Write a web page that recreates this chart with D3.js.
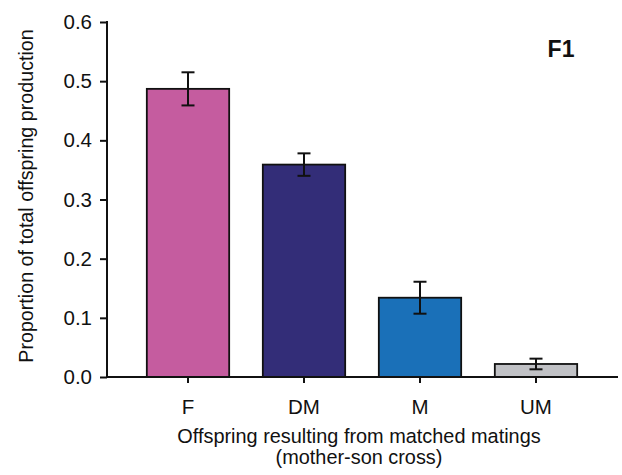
<!DOCTYPE html>
<html>
<head>
<meta charset="utf-8">
<script src="https://cdn.jsdelivr.net/npm/d3@7"></script>
<style>
  body { margin: 0; background: #fff; }
  text { font-family: "Liberation Sans", Arial, sans-serif; }
</style>
</head>
<body>
<div id="chart"></div>
<script>
// data
var categories = ['F', 'DM', 'M', 'UM'];
var proportions = [0.487, 0.359, 0.134, 0.022];
var errors = [0.028, 0.019, 0.027, 0.009];
var barColors = ['#c55c9f', '#332d78', '#1a70b8', '#c0c1c5'];
var yTicks = [0.0, 0.1, 0.2, 0.3, 0.4, 0.5, 0.6];

var width = 622;
var height = 475;

var svg = d3.select('#chart')
    .append('svg')
    .attr('width', width)
    .attr('height', height);

var x = d3.scaleBand()
    .domain(categories)
    .range([130, 594])
    .paddingInner(0.29)
    .paddingOuter(0.145);

var y = d3.scaleLinear()
    .domain([0, 0.6])
    .range([377, 22]);

// bars
svg.selectAll('rect.bar')
    .data(categories)
    .enter()
    .append('rect')
    .attr('class', 'bar')
    .attr('x', function(d) { return x(d); })
    .attr('width', x.bandwidth())
    .attr('y', function(d, i) { return y(proportions[i]); })
    .attr('height', function(d, i) { return y(0) - y(proportions[i]); })
    .attr('fill', function(d, i) { return barColors[i]; })
    .attr('stroke', '#111')
    .attr('stroke-width', 1.8);

// error bars
var err = svg.selectAll('g.err')
    .data(categories)
    .enter()
    .append('g')
    .attr('class', 'err')
    .attr('stroke', '#111')
    .attr('stroke-width', 2);

err.append('line')
    .attr('x1', function(d) { return x(d) + x.bandwidth() / 2; })
    .attr('x2', function(d) { return x(d) + x.bandwidth() / 2; })
    .attr('y1', function(d, i) { return y(proportions[i] + errors[i]); })
    .attr('y2', function(d, i) { return y(proportions[i] - errors[i]); });

[1, -1].forEach(function(s) {
    err.append('line')
        .attr('x1', function(d) { return x(d) + x.bandwidth() / 2 - 6.5; })
        .attr('x2', function(d) { return x(d) + x.bandwidth() / 2 + 6.5; })
        .attr('y1', function(d, i) { return y(proportions[i] + s * errors[i]); })
        .attr('y2', function(d, i) { return y(proportions[i] + s * errors[i]); });
});

// y axis
var yAxis = d3.axisLeft(y)
    .tickValues(yTicks)
    .tickFormat(d3.format('.1f'))
    .tickSize(7)
    .tickPadding(8);

var gy = svg.append('g')
    .attr('transform', 'translate(107,0)')
    .call(yAxis);
gy.select('.domain').remove();
gy.append('line')
    .attr('x1', 0).attr('x2', 0)
    .attr('y1', y(0.6) - 1).attr('y2', y(0) + 1)
    .attr('stroke', '#111')
    .attr('stroke-width', 2);
gy.selectAll('.tick line').attr('stroke', '#111').attr('stroke-width', 2);
gy.selectAll('.tick text')
    .attr('fill', '#111')
    .style('font-size', '20.5px');

// x axis
var xAxis = d3.axisBottom(x)
    .tickSize(6)
    .tickPadding(8);

var gx = svg.append('g')
    .attr('transform', 'translate(0,' + y(0) + ')')
    .call(xAxis);
gx.select('.domain').remove();
gx.append('line')
    .attr('x1', 106).attr('x2', 618)
    .attr('y1', 0).attr('y2', 0)
    .attr('stroke', '#111')
    .attr('stroke-width', 2);
gx.selectAll('.tick line').attr('stroke', '#111').attr('stroke-width', 2);
gx.selectAll('.tick text')
    .attr('fill', '#111')
    .attr('y', 37)
    .attr('dy', null)
    .style('font-size', '20.5px');

// axis titles
svg.append('text')
    .attr('transform', 'translate(33,196) rotate(-90)')
    .attr('text-anchor', 'middle')
    .attr('fill', '#111')
    .style('font-size', '19.7px')
    .text('Proportion of total offspring production');

svg.append('text')
    .attr('x', 359)
    .attr('y', 443)
    .attr('text-anchor', 'middle')
    .attr('fill', '#111')
    .style('font-size', '19.9px')
    .text('Offspring resulting from matched matings');

svg.append('text')
    .attr('x', 359)
    .attr('y', 464)
    .attr('text-anchor', 'middle')
    .attr('fill', '#111')
    .style('font-size', '19.9px')
    .text('(mother-son cross)');

svg.append('text')
    .attr('x', 561)
    .attr('y', 57)
    .attr('text-anchor', 'middle')
    .attr('fill', '#111')
    .style('font-size', '23px')
    .style('font-weight', 'bold')
    .text('F1');
</script>
</body>
</html>
